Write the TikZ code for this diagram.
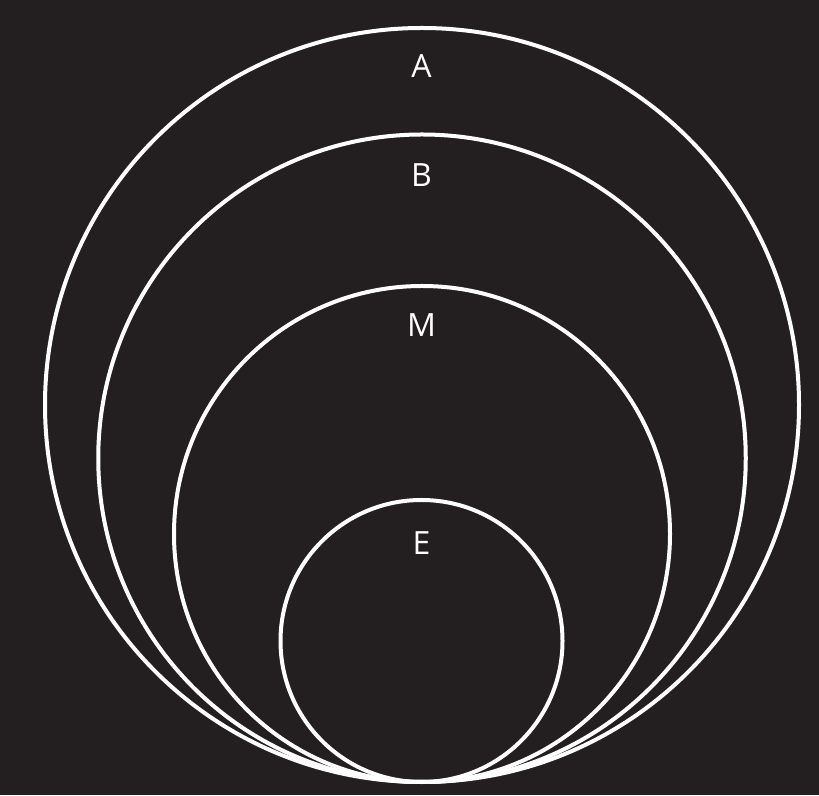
\documentclass[tikz,border=0pt]{standalone}
\usepackage{fontspec}
\setmainfont{Open Sans}
\definecolor{bg}{HTML}{231F20}
\begin{document}
\begin{tikzpicture}[x=1pt,y=1pt,
  ring/.style={draw=white,line width=4pt},
  lbl/.style={text=white,font=\fontsize{32}{38}\selectfont,inner sep=0pt}]
\fill[bg] (0,0) rectangle (819,795);
\useasboundingbox (0,0) rectangle (819,795);
\draw[ring] (422,390) circle (377);
\draw[ring] (422,336.75) circle (323.75);
\draw[ring] (422,261) circle (248);
\draw[ring] (421.5,154) circle (141);
\node[lbl] (a) at (421.5,729) {A};
\node[lbl] (b) at (421.5,620) {B};
\node[lbl] (m) at (421.5,469.5) {M};
\node[lbl] (e) at (421.5,252) {E};
\end{tikzpicture}
\end{document}
